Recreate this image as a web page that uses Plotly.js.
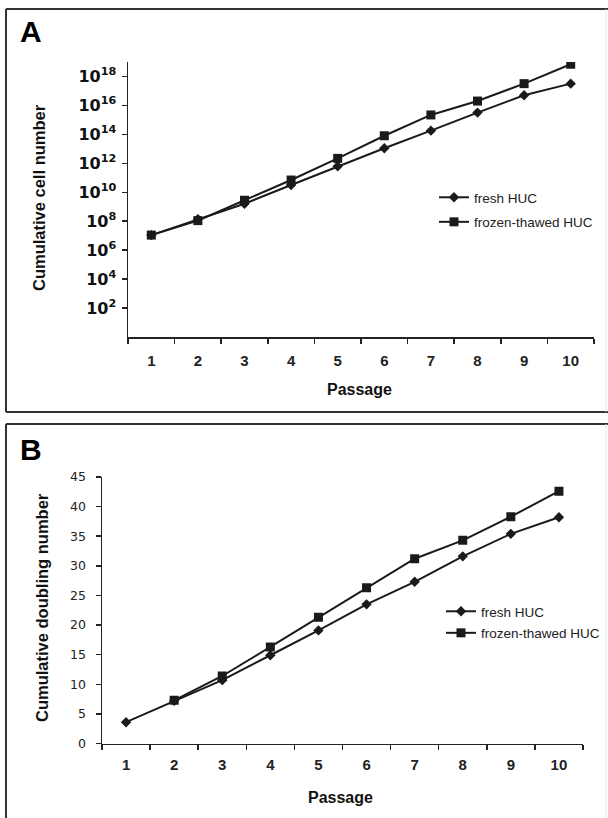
<!DOCTYPE html>
<html><head><meta charset="utf-8">
<script src="https://cdn.plot.ly/plotly-3.0.1.min.js"></script>
<style>html,body{margin:0;padding:0;background:#fff;}#chart{width:608px;height:818px;}</style>
</head><body><div id="chart"></div>
<script>
// ---- data ----
const passages = ['1','2','3','4','5','6','7','8','9','10'];
const seriesNames = ['fresh HUC', 'frozen-thawed HUC'];
// Panel A: cumulative cell number
const freshCells  = [1.1e7, 1.4e8, 1.6e9, 3.2e10, 6.3e11, 1.1e13, 1.8e14, 3.2e15, 5e16, 3.2e17];
const frozenCells = [1.1e7, 1.1e8, 2.8e9, 7e10, 2.2e12, 8e13, 2.2e15, 2e16, 3.2e17, 7e18];
const cellTickVals = [1e2, 1e4, 1e6, 1e8, 1e10, 1e12, 1e14, 1e16, 1e18];
const cellTickText = ['10<sup>2</sup>','10<sup>4</sup>','10<sup>6</sup>','10<sup>8</sup>','10<sup>10</sup>','10<sup>12</sup>','10<sup>14</sup>','10<sup>16</sup>','10<sup>18</sup>'];
// Panel B: cumulative doubling number
const freshDoublings  = [3.6, 7.2, 10.7, 14.9, 19.1, 23.5, 27.3, 31.6, 35.4, 38.2];
const frozenDoublings = [null, 7.3, 11.4, 16.3, 21.3, 26.3, 31.2, 34.3, 38.3, 42.6];

// ---- layout helpers (pixel -> paper) ----
const W = 608, H = 818;
const px = x => x / W;
const py = y => 1 - y / H;
const FONT = 'Arial, "Liberation Sans", sans-serif';
const INK = '#1a1a1a';

function lineTrace(x, y, name, symbol, size, xa, ya, legend, showleg, group) {
  return {
    type: 'scatter', mode: 'lines+markers', x: x, y: y, name: name,
    xaxis: xa, yaxis: ya, legend: legend, showlegend: showleg, legendgroup: group,
    line: {color: INK, width: 2},
    marker: {symbol: symbol, size: size, color: INK},
    connectgaps: false, hoverinfo: 'skip'
  };
}

const data = [
  lineTrace(passages, freshCells,  seriesNames[0], 'diamond', 8, 'x',  'y',  'legend',  true, 'a1'),
  lineTrace(passages, frozenCells, seriesNames[1], 'square',  9, 'x',  'y',  'legend',  true, 'a2'),
  lineTrace(passages, freshDoublings,  seriesNames[0], 'diamond', 8, 'x2', 'y2', 'legend2', true, 'b1'),
  lineTrace(passages, frozenDoublings, seriesNames[1], 'square',  9, 'x2', 'y2', 'legend2', true, 'b2')
];

const axisCommon = {
  showline: true, linecolor: '#222', linewidth: 1.5,
  ticks: 'outside', ticklen: 5, tickwidth: 1.5, tickcolor: '#222',
  showgrid: false, zeroline: false, fixedrange: true
};
const xTickFont = {family: FONT, size: 15, color: '#222', weight: 'bold'};

const legendCommon = {
  xanchor: 'left', yanchor: 'top', bgcolor: 'rgba(0,0,0,0)', borderwidth: 0,
  traceorder: 'grouped', tracegroupgap: 4,
  font: {family: FONT, size: 13.5, color: '#222'}
};

const layout = {
  width: W, height: H, margin: {l: 0, r: 0, t: 0, b: 0},
  paper_bgcolor: '#fff', plot_bgcolor: 'rgba(0,0,0,0)',
  xaxis: Object.assign({}, axisCommon, {
    domain: [px(128), px(594)], anchor: 'y', type: 'category',
    categoryorder: 'array', categoryarray: passages,
    range: [-0.5, 9.5], tickson: 'boundaries', ticklabelstandoff: 9,
    tickfont: xTickFont
  }),
  yaxis: Object.assign({}, axisCommon, {
    domain: [py(337), py(62)], anchor: 'x', type: 'log', range: [0, 19],
    tickmode: 'array', tickvals: cellTickVals, ticktext: cellTickText,
    ticklabelstandoff: 2,
    tickfont: {family: '"DejaVu Sans", sans-serif', size: 16, color: '#111', weight: 'bold'}
  }),
  xaxis2: Object.assign({}, axisCommon, {
    domain: [px(102), px(583)], anchor: 'y2', type: 'category',
    categoryorder: 'array', categoryarray: passages,
    range: [-0.5, 9.5], tickson: 'boundaries', ticklabelstandoff: 7,
    tickfont: xTickFont
  }),
  yaxis2: Object.assign({}, axisCommon, {
    domain: [py(743.5), py(477)], anchor: 'x2', range: [0, 45],
    tickmode: 'linear', tick0: 0, dtick: 5, ticklabelstandoff: 7,
    tickfont: {family: '"DejaVu Sans", sans-serif', size: 12.5, color: '#222'}
  }),
  legend: Object.assign({}, legendCommon, {x: px(434), y: py(182)}),
  legend2: Object.assign({}, legendCommon, {x: px(441), y: py(596), tracegroupgap: 1}),
  annotations: [
    {text: '<b>A</b>', x: px(18), y: py(32), xref: 'paper', yref: 'paper', xanchor: 'left', yanchor: 'middle',
     showarrow: false, font: {family: FONT, size: 30, color: '#000'}},
    {text: '<b>B</b>', x: px(18), y: py(449), xref: 'paper', yref: 'paper', xanchor: 'left', yanchor: 'middle',
     showarrow: false, font: {family: FONT, size: 30, color: '#000'}},
    {text: '<b>Cumulative cell number</b>', x: px(39), y: py(198), xref: 'paper', yref: 'paper',
     xanchor: 'center', yanchor: 'middle', textangle: -90, showarrow: false,
     font: {family: FONT, size: 16.5, color: '#111'}},
    {text: '<b>Cumulative doubling number</b>', x: px(42), y: py(608), xref: 'paper', yref: 'paper',
     xanchor: 'center', yanchor: 'middle', textangle: -90, showarrow: false,
     font: {family: FONT, size: 16.5, color: '#111'}},
    {text: '<b>Passage</b>', x: px(359), y: py(390), xref: 'paper', yref: 'paper',
     xanchor: 'center', yanchor: 'middle', showarrow: false, font: {family: FONT, size: 16, color: '#111'}},
    {text: '<b>Passage</b>', x: px(340), y: py(797), xref: 'paper', yref: 'paper',
     xanchor: 'center', yanchor: 'middle', showarrow: false, font: {family: FONT, size: 16, color: '#111'}}
  ],
  shapes: [
    // panel A frame
    {type: 'line', xref: 'paper', yref: 'paper', x0: px(6), x1: px(608), y0: py(9), y1: py(9), line: {color: '#333', width: 2}},
    {type: 'line', xref: 'paper', yref: 'paper', x0: px(6), x1: px(6), y0: py(9), y1: py(412), line: {color: '#333', width: 2}},
    {type: 'line', xref: 'paper', yref: 'paper', x0: px(6), x1: px(608), y0: py(412), y1: py(412), line: {color: '#333', width: 2}},
    {type: 'line', xref: 'paper', yref: 'paper', x0: px(606), x1: px(606), y0: py(9), y1: py(412), line: {color: '#e4e4e4', width: 1}},
    // panel B frame
    {type: 'line', xref: 'paper', yref: 'paper', x0: px(6), x1: px(608), y0: py(424), y1: py(424), line: {color: '#333', width: 2}},
    {type: 'line', xref: 'paper', yref: 'paper', x0: px(6), x1: px(6), y0: py(424), y1: py(818), line: {color: '#333', width: 2}},
    {type: 'line', xref: 'paper', yref: 'paper', x0: px(606), x1: px(606), y0: py(424), y1: py(818), line: {color: '#e4e4e4', width: 1}}
  ]
};

Plotly.newPlot('chart', data, layout, {displayModeBar: false, staticPlot: true});
</script>
</body></html>
